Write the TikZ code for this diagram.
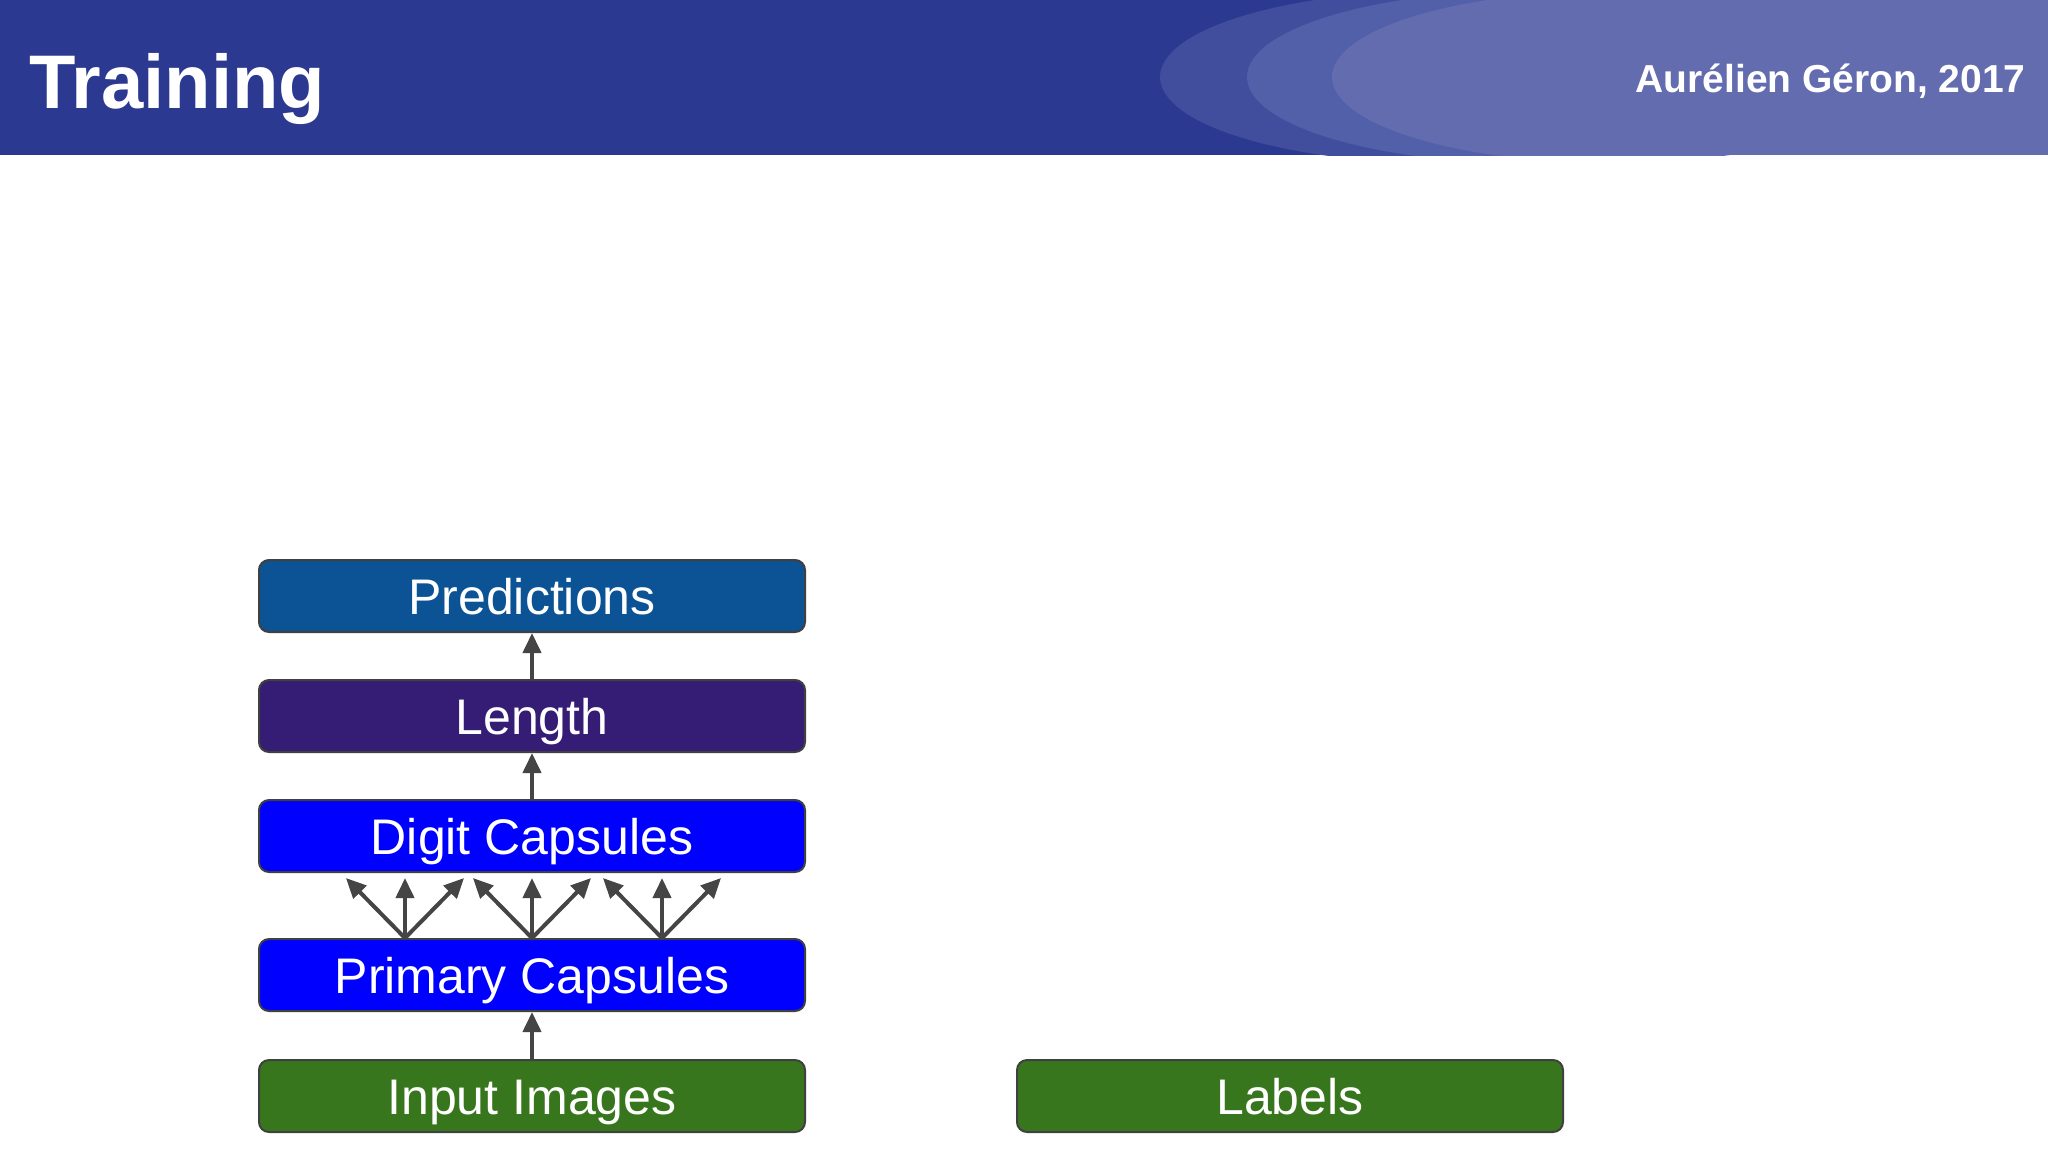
\documentclass[tikz,border=0pt]{standalone}
\usepackage{fontspec}
\setmainfont{Liberation Sans}
\usepackage{tikz}
\usetikzlibrary{arrows.meta}
\definecolor{headblue}{HTML}{2B3990}
\definecolor{ringA}{HTML}{414E9E}
\definecolor{ringB}{HTML}{5260AA}
\definecolor{ringC}{HTML}{626CAE}
\definecolor{predblue}{HTML}{0B5394}
\definecolor{lenpurple}{HTML}{351C75}
\definecolor{capsblue}{HTML}{0000FF}
\definecolor{datagreen}{HTML}{38761D}
\definecolor{edgegray}{HTML}{404040}
\definecolor{arrowgray}{HTML}{454545}

\begin{document}
\begin{tikzpicture}[x=0.5pt,y=-0.5pt,
  layer/.style={rectangle,draw=edgegray,line width=1pt,rounded corners=5pt,
    minimum width=273pt,minimum height=36pt,text height=18pt,text depth=0pt,
    text=white,font=\fontsize{25}{30}\selectfont},
  flow/.style={draw=arrowgray,line width=2pt,-{Triangle[length=10pt,width=9pt]}}]
\useasboundingbox (0,0) rectangle (2048,1152);
\fill[white] (0,0) rectangle (2048,1152);
% header
\begin{scope}
\clip (0,0) rectangle (2048,155);
\fill[headblue] (0,0) rectangle (2048,155);
\fill[ringA] (1440,77) ellipse (280 and 86);
\fill[ringA] (1440,0) rectangle (2048,155);
\fill[ringB] (1527,77) ellipse (280 and 86);
\fill[ringB] (1527,0) rectangle (2048,155);
\fill[ringC] (1612,77) ellipse (280 and 86);
\fill[ringC] (1612,0) rectangle (2048,155);
\end{scope}
\node (title) [anchor=base west,inner sep=0pt,text=white,font=\fontsize{38}{44}\selectfont\bfseries] at (29,108) {Training};
\node (author) [anchor=base east,inner sep=0pt,text=white,font=\fontsize{19.5}{23}\selectfont\bfseries] at (2026,92) {Aurélien Géron, 2017};
% layers
\node (pred) [layer,fill=predblue] at (532,596) {Predictions};
\node (len) [layer,fill=lenpurple] at (532,716) {Length};
\node (digit) [layer,fill=capsblue] at (532,836) {Digit Capsules};
\node (prim) [layer,fill=capsblue] at (532,975) {Primary Capsules};
\node (input) [layer,fill=datagreen] at (532,1096) {Input Images};
\node (labels) [layer,fill=datagreen] at (1290,1096) {Labels};
% connectors
\draw[flow] (input) -- (prim);
\draw[flow] (digit) -- (len);
\draw[flow] (len) -- (pred);
\foreach \cx/\k in {405/a,532/b,662/c} {
  \coordinate (src\k) at (prim.north -| \cx,0);
  \coordinate (tipL\k) at (\cx-59,878);
  \coordinate (tipM\k) at (\cx,878);
  \coordinate (tipR\k) at (\cx+59,878);
  \draw[flow] (src\k) -- (tipL\k);
  \draw[flow] (src\k) -- (tipM\k);
  \draw[flow] (src\k) -- (tipR\k);
}
\end{tikzpicture}
\end{document}
